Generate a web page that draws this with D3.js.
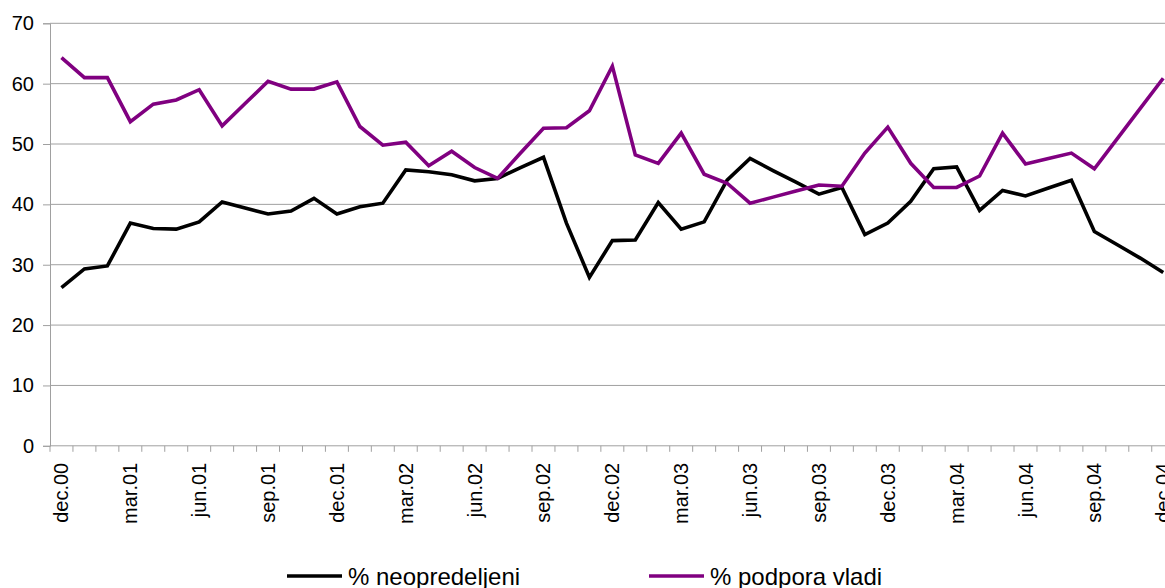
<!DOCTYPE html>
<html>
<head>
<meta charset="utf-8">
<script src="https://cdn.jsdelivr.net/npm/d3@7"></script>
<style>
  body { margin: 0; background: #fff; }
  svg { display: block; font-family: "Liberation Sans", Arial, sans-serif; }
</style>
</head>
<body>
<svg id="chart"></svg>
<script>
// month names (slovene), first category is dec.00, last dec.04
const monthNames = ["jan", "feb", "mar", "apr", "maj", "jun", "jul", "avg", "sep", "okt", "nov", "dec"];
const categories = [];
for (let k = 0; k < 49; k++) {
  const m = (11 + k) % 12;
  const yr = Math.floor((11 + k) / 12);
  categories.push(monthNames[m] + ".0" + yr);
}
const shownLabels = ["dec.00", "mar.01", "jun.01", "sep.01", "dec.01", "mar.02", "jun.02", "sep.02",
  "dec.02", "mar.03", "jun.03", "sep.03", "dec.03", "mar.04", "jun.04", "sep.04", "dec.04"];
const yTicks = [0, 10, 20, 30, 40, 50, 60, 70];

const neopredeljeni = [26.2, 29.3, 29.8, 36.9, 36.0, 35.9, 37.1, 40.4, 39.4, 38.4, 38.9, 41.0, 38.4,
  39.6, 40.2, 45.7, 45.4, 44.9, 43.9, 44.3, 46.1, 47.8, 36.9, 27.9, 34.0,
  34.1, 40.3, 35.9, 37.1, 44.0, 47.6, 45.6, 43.7, 41.7, 42.8, 35.0, 36.9,
  40.5, 45.9, 46.2, 39.0, 42.3, 41.4, 42.7, 44.0, 35.5, 33.3, 31.1, 28.7];
const podpora = [64.3, 61.0, 61.0, 53.7, 56.6, 57.3, 59.0, 53.0, 56.7, 60.4, 59.1, 59.1, 60.3,
  52.9, 49.8, 50.3, 46.4, 48.8, 46.1, 44.3, 48.5, 52.6, 52.7, 55.5, 62.9,
  48.2, 46.8, 51.8, 45.0, 43.5, 40.2, 41.2, 42.2, 43.2, 43.0, 48.5, 52.8,
  46.8, 42.8, 42.8, 44.7, 51.8, 46.7, 47.6, 48.5, 45.9, 50.9, 55.9, 60.9];

const seriesNames = ["% neopredeljeni", "% podpora vladi"];
const seriesColors = ["#000000", "#800080"];

const W = 1165, H = 588;
const margin = { top: 23.3, left: 50 };
const plotRight = 1174.7;
const plotBottom = 445.8;

const svg = d3.select("#chart").attr("width", W).attr("height", H);

const x = d3.scaleBand().domain(categories).range([margin.left, plotRight]).padding(0);
const y = d3.scaleLinear().domain([0, 70]).range([plotBottom, margin.top]);

// gridlines
svg.append("g")
  .selectAll("line")
  .data(yTicks.filter(d => d > 0))
  .join("line")
  .attr("x1", margin.left).attr("x2", W)
  .attr("y1", d => y(d)).attr("y2", d => y(d))
  .attr("stroke", "#a0a0a0").attr("stroke-width", 1);

// y axis
const yAxis = d3.axisLeft(y).tickValues(yTicks).tickSize(7).tickPadding(9);
const gy = svg.append("g").attr("transform", `translate(${margin.left},0)`).call(yAxis);
gy.select(".domain").attr("stroke", "#a0a0a0");
gy.selectAll(".tick line").attr("stroke", "#a0a0a0");
gy.selectAll("text").attr("font-size", 20).attr("fill", "#000");

// x axis: tick marks at band boundaries
const gx = svg.append("g").attr("transform", `translate(0,${plotBottom})`);
gx.append("line")
  .attr("x1", margin.left).attr("x2", W)
  .attr("stroke", "#a0a0a0");
gx.selectAll(".xt")
  .data(categories)
  .join("line")
  .attr("class", "xt")
  .attr("x1", d => x(d)).attr("x2", d => x(d))
  .attr("y1", 0).attr("y2", 6)
  .attr("stroke", "#a0a0a0");
gx.selectAll(".xl")
  .data(shownLabels)
  .join("text")
  .attr("class", "xl")
  .attr("transform", d => `translate(${x(d) + x.bandwidth() / 2 + 7},17) rotate(-90)`)
  .attr("text-anchor", "end")
  .attr("font-size", 20)
  .attr("fill", "#000")
  .text(d => d);

// lines
const line = d3.line()
  .x((d, i) => x(categories[i]) + x.bandwidth() / 2)
  .y(d => y(d));

[neopredeljeni, podpora].forEach((s, k) => {
  svg.append("path")
    .datum(s)
    .attr("fill", "none")
    .attr("stroke", seriesColors[k])
    .attr("stroke-width", 3.6)
    .attr("stroke-linejoin", "miter")
    .attr("d", line);
});

// legend
const legendX = [287, 649];
const legend = svg.append("g").attr("transform", "translate(0,576)");
seriesNames.forEach((name, k) => {
  legend.append("line")
    .attr("x1", legendX[k]).attr("x2", legendX[k] + 55)
    .attr("stroke", seriesColors[k]).attr("stroke-width", 3.6);
  legend.append("text")
    .attr("x", legendX[k] + 61)
    .attr("y", 9)
    .attr("font-size", 24)
    .attr("fill", "#000")
    .text(name);
});
</script>
</body>
</html>
